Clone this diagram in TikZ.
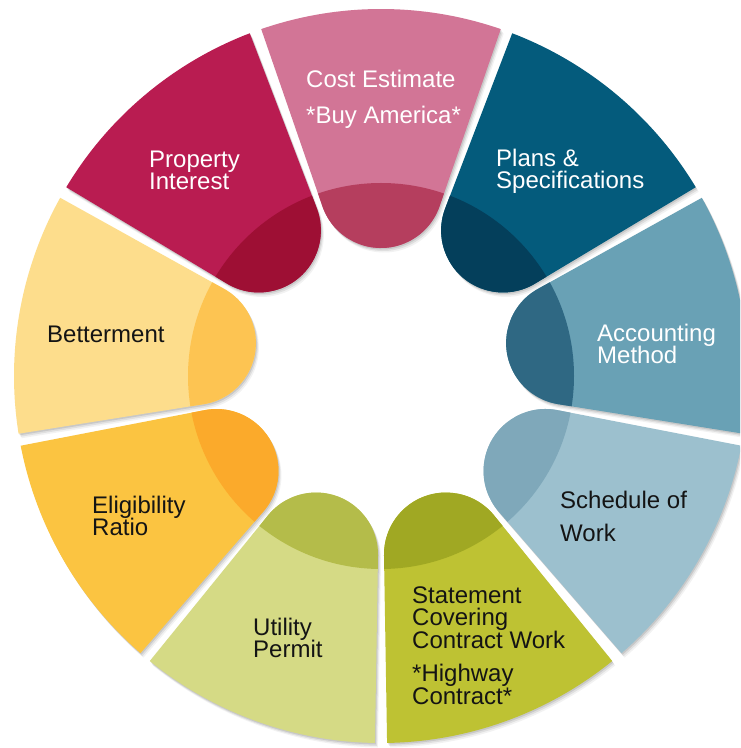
\documentclass[tikz,border=0pt]{standalone}
\usepackage{fontspec}
\setmainfont{Liberation Sans}
\definecolor{cost}{RGB}{210,117,150}
\definecolor{costd}{RGB}{181,62,94}
\definecolor{prop}{RGB}{185,28,81}
\definecolor{propd}{RGB}{158,15,52}
\definecolor{plans}{RGB}{4,91,124}
\definecolor{plansd}{RGB}{4,63,91}
\definecolor{acct}{RGB}{105,161,181}
\definecolor{acctd}{RGB}{47,104,131}
\definecolor{sched}{RGB}{156,192,206}
\definecolor{schedd}{RGB}{127,168,186}
\definecolor{stmt}{RGB}{190,194,51}
\definecolor{stmtd}{RGB}{160,168,35}
\definecolor{util}{RGB}{213,218,133}
\definecolor{utild}{RGB}{180,188,74}
\definecolor{elig}{RGB}{251,196,65}
\definecolor{eligd}{RGB}{251,170,43}
\definecolor{bett}{RGB}{253,221,140}
\definecolor{bettd}{RGB}{253,196,82}
\definecolor{txtdark}{RGB}{20,20,20}
\newcommand\segshape[2]{\path[#2] ([shift={(#1:190)}]#1-109:62) -- (#1-19.05:367) arc[start angle=#1-19.05, end angle=#1+19.05, radius=367] -- ([shift={(#1:190)}]#1+109:62) arc[start angle=#1+109, end angle=#1+251, radius=62] -- cycle;}
\newcommand\segshadow[1]{%
  \segshape{#1}{fill=black, opacity=0.10, shift={(1,-1.5)}}%
  \segshape{#1}{fill=black, opacity=0.08, shift={(2,-3)}}%
  \segshape{#1}{fill=black, opacity=0.05, shift={(3,-4.5)}}}
\newcommand\segment[3]{%
  \segshape{#1}{fill=#2}%
  \begin{scope}
    \segshape{#1}{clip}
    \fill[#3] (0,0) circle[radius=193];
  \end{scope}}
\tikzset{
  lbl/.style={anchor=base west, align=left, inner sep=0pt,
    font=\fontsize{24}{22.5}\selectfont},
  wlbl/.style={lbl, text=white},
  blbl/.style={lbl, text=txtdark}
}
\begin{document}
\begin{tikzpicture}[x=1pt,y=1pt]
\clip (0,0) rectangle (740,748);
\fill[white] (0,0) rectangle (740,748);
\begin{scope}[shift={(381,372)}]
  \foreach \a in {90,50,10,-30,-70,-110,-150,170,130}{\segshadow{\a}}
  \segment{90}{cost}{costd}
  \segment{130}{prop}{propd}
  \segment{50}{plans}{plansd}
  \segment{10}{acct}{acctd}
  \segment{-30}{sched}{schedd}
  \segment{-70}{stmt}{stmtd}
  \segment{-110}{util}{utild}
  \segment{-150}{elig}{eligd}
  \segment{170}{bett}{bettd}
\end{scope}
\node[wlbl] (costlbl) at (306,624.7) {Cost Estimate\\[13pt]*Buy America*};
\node[wlbl] (proplbl) at (149,558) {Property\\Interest};
\node[wlbl] (planslbl) at (496,559) {Plans \&\\Specifications};
\node[wlbl] (acctlbl) at (597,384) {Accounting\\Method};
\node[blbl] (bettlbl) at (47,405) {Betterment};
\node[blbl] (eliglbl) at (92,212) {Eligibility\\Ratio};
\node[blbl] (utillbl) at (253,90) {Utility\\Permit};
\node[blbl] (stmtlbl) at (412,43.7) {Statement\\Covering\\Contract Work\\[11pt]*Highway\\Contract*};
\node[blbl] (schedlbl) at (560,206) {Schedule of\\[11pt]Work};
\end{tikzpicture}
\end{document}
